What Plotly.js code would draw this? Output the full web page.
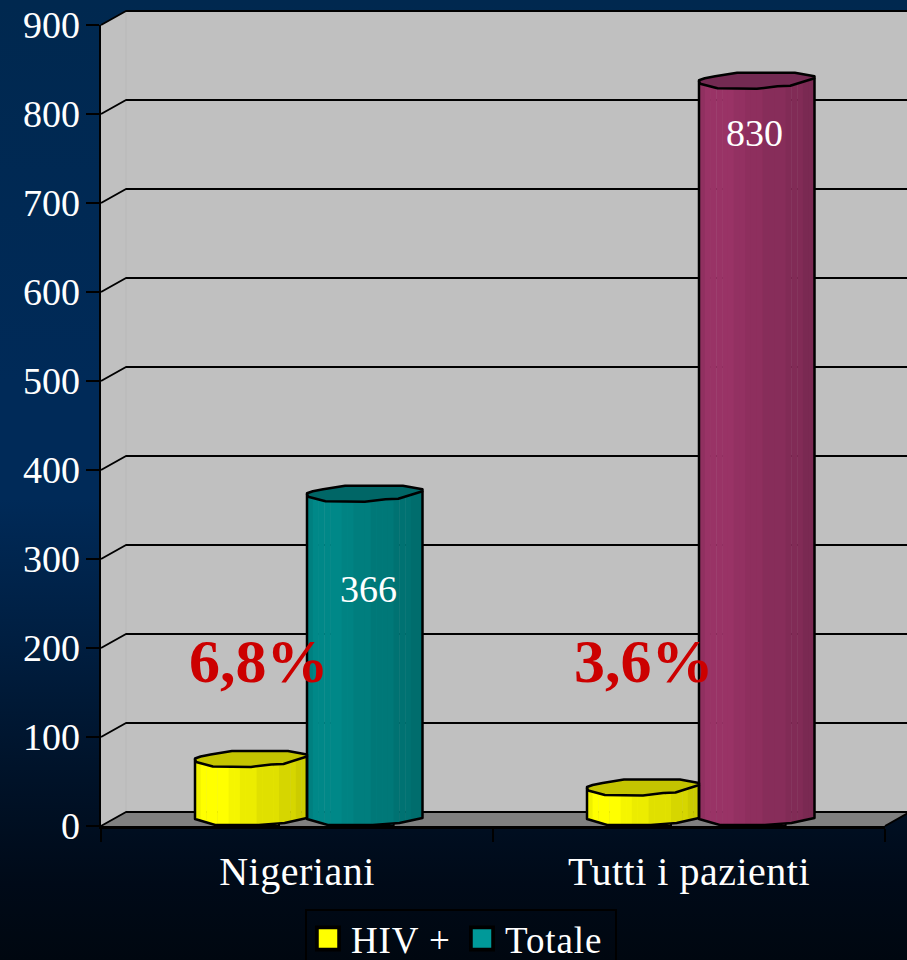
<!DOCTYPE html>
<html>
<head>
<meta charset="utf-8">
<script src="https://cdn.plot.ly/plotly-3.0.1.min.js"></script>
<style>
html,body{margin:0;padding:0;width:907px;height:960px;overflow:hidden;
background:linear-gradient(to bottom,#00284f 0%,#002a58 40%,#002a58 52%,#001f42 66%,#00132a 80%,#000a18 92%,#000710 100%);}
</style>
</head>
<body>
<div id="chart" style="width:907px;height:960px"></div>
<script>
// ---- data ----
const categories = ['Nigeriani', 'Tutti i pazienti'];
const hivValues = [68, 36];
const totalValues = [366, 830];
const percentLabels = ['6,8%', '3,6%'];
const yTicks = [0, 100, 200, 300, 400, 500, 600, 700, 800, 900];

// ---- geometry and style ----
const PLOT = {l: 101, r: 885, t: 25, b: 826};
const W = PLOT.r - PLOT.l, H = PLOT.b - PLOT.t;
const pxPerCat = W / 2, pxPerVal = H / 900;
const DX = 25 / W, DY = 14 / H;
const FONT = '"Liberation Serif", serif';

const shadeStops = [[0.07, 0.94], [0.30, 1], [0.42, 0.96], [0.56, 0.925], [0.75, 0.88], [0.90, 0.84], [1.01, 0.80]];
const bottomCurve = [[0, 7], [0.18, 1], [0.57, 1], [0.8, 3], [1, 8]];
const capLower = [[0, 6], [0.01, 3.5], [0.16, -1], [0.5, -1.5], [0.68, 1], [0.79, 1.5], [1, 9]];
const capUpper = [[1, 11], [0.83, 14.5], [0.33, 14.5], [0.14, 11], [0.05, 9], [0, 7]];
const STRIPS = 20;

const lerp = (pts, u) => {
  for (let i = 1; i < pts.length; i++) {
    if (u <= pts[i][0]) {
      const a = pts[i - 1], b = pts[i];
      return a[1] + (b[1] - a[1]) * (u - a[0]) / (b[0] - a[0]);
    }
  }
  return pts[pts.length - 1][1];
};
const shade = (rgb, f) => 'rgb(' + rgb.map(c => Math.round(c * f)).join(',') + ')';
const factor = u => shadeStops.find(s => u < s[0])[1];

const series = [
  {name: 'HIV +', values: hivValues, left: -102, width: 112,
   colors: [[255, 255, 0], [255, 255, 0]], caps: ['#c4c400', '#c4c400'], swatch: ['#ffff00', '#ffff00']},
  {name: 'Totale', values: totalValues, left: 10, width: 115.5,
   colors: [[0, 136, 136], [153, 51, 102]], caps: ['#006666', '#732a52'], swatch: ['#009999', '#993366']}
];

const traces = [], aboveShapes = [];
series.forEach(s => {
  // the series' own bar, carrying the values and the legend entry
  traces.push({
    type: 'bar', name: s.name, x: categories, y: s.values,
    width: s.width * 0.5 / pxPerCat,
    offset: (s.left + s.width * 0.25) / pxPerCat,
    marker: {color: s.swatch, line: {color: '#000', width: 2}},
    hoverinfo: 'x+y'
  });
  // shaded strips of the cylinder body
  for (let i = 0; i < STRIPS; i++) {
    const u = (i + 0.5) / STRIPS;
    const base = lerp(bottomCurve, u) / pxPerVal;
    const top = v => v + lerp(capLower, u) / pxPerVal;
    traces.push({
      type: 'bar', x: categories, showlegend: false, hoverinfo: 'skip',
      base: s.values.map(() => base),
      y: s.values.map(v => top(v) - base),
      width: (s.width / STRIPS + 0.4) / pxPerCat,
      offset: (s.left + s.width * i / STRIPS) / pxPerCat,
      marker: {color: s.colors.map(c => shade(c, factor(u))), line: {width: 0}}
    });
  }
  // cap and outline
  s.values.forEach((v, c) => {
    const X = u => c + (s.left + s.width * u) / pxPerCat;
    const Y = d => v + d / pxPerVal;
    const pts = capLower.concat(capUpper);
    aboveShapes.push({
      type: 'path', xref: 'x', yref: 'y', layer: 'above',
      path: 'M' + pts.map(p => X(p[0]) + ',' + Y(p[1])).join('L') + 'Z',
      fillcolor: s.caps[c], line: {color: '#000', width: 2.5}
    });
    const body = [[0, Y(capLower[0][1])]]
      .concat(bottomCurve.map(p => [p[0], p[1] / pxPerVal]))
      .concat([[1, Y(capLower[capLower.length - 1][1])]]);
    aboveShapes.push({
      type: 'path', xref: 'x', yref: 'y', layer: 'above',
      path: 'M' + body.map(p => X(p[0]) + ',' + p[1]).join('L'),
      line: {color: '#000', width: 2.5}
    });
  });
});

// ---- 3D box behind the bars ----
const poly = (pts, fill) => ({
  type: 'path', xref: 'paper', yref: 'paper', layer: 'below',
  path: 'M' + pts.map(p => p[0] + ',' + p[1]).join('L') + 'Z',
  fillcolor: fill, line: {width: 0}
});
const RIGHT_EDGE = 1 + DX;
const belowShapes = [
  poly([[DX, DY], [RIGHT_EDGE, DY], [RIGHT_EDGE, 1 + DY], [DX, 1 + DY]], '#c0c0c0'),
  poly([[0, 0], [DX, DY], [DX, 1 + DY], [0, 1]], '#c0c0c0'),
  poly([[0, 0], [1, 0], [RIGHT_EDGE, DY], [DX, DY]], '#808080'),
  {type: 'line', xref: 'paper', yref: 'paper', layer: 'below', x0: DX, x1: DX, y0: DY, y1: 1 + DY,
   line: {color: '#b8b8b8', width: 1}}
];
yTicks.forEach(t => {
  const y = t / 900;
  belowShapes.push({
    type: 'path', xref: 'paper', yref: 'paper', layer: 'below',
    path: 'M0,' + y + 'L' + DX + ',' + (y + DY) + 'L' + RIGHT_EDGE + ',' + (y + DY),
    line: {color: '#000', width: 2}
  });
});
belowShapes.push({type: 'line', xref: 'paper', yref: 'paper', layer: 'below', x0: 1, x1: RIGHT_EDGE, y0: 0, y1: DY,
  line: {color: '#000', width: 2}});

// ---- texts placed by hand on the picture ----
const annotations = [
  {x: (259 - PLOT.l) / W, y: (PLOT.b - 661) / H, text: percentLabels[0]},
  {x: (644 - PLOT.l) / W, y: (PLOT.b - 661) / H, text: percentLabels[1]}
].map(a => Object.assign(a, {
  xref: 'paper', yref: 'paper', showarrow: false, xanchor: 'center', yanchor: 'middle',
  font: {family: FONT, size: 62, color: '#cc0000', weight: 700}
})).concat([
  {x: (368 - PLOT.l) / W, y: (PLOT.b - 589) / H, text: String(totalValues[0])},
  {x: (754 - PLOT.l) / W, y: (PLOT.b - 133) / H, text: String(totalValues[1])}
].map(a => Object.assign(a, {
  xref: 'paper', yref: 'paper', showarrow: false, xanchor: 'center', yanchor: 'middle',
  font: {family: FONT, size: 38, color: '#ffffff'}
})));

const layout = {
  width: 907, height: 960,
  paper_bgcolor: 'rgba(0,0,0,0)', plot_bgcolor: 'rgba(0,0,0,0)',
  margin: {l: PLOT.l, r: 907 - PLOT.r, t: PLOT.t, b: 960 - PLOT.b, pad: 0, autoexpand: false},
  barmode: 'overlay',
  font: {family: FONT, color: '#fff', size: 37},
  xaxis: {
    type: 'category', range: [-0.5, 1.5], fixedrange: true,
    tickson: 'boundaries', ticks: 'outside', ticklen: 13, tickwidth: 2, tickcolor: '#000',
    showline: true, linecolor: '#000', linewidth: 2.5, showgrid: false, zeroline: false,
    ticklabelstandoff: 8, tickfont: {family: FONT, size: 40, color: '#fff'}
  },
  yaxis: {
    range: [0, 900], tickvals: yTicks, ticktext: yTicks.map(String), fixedrange: true,
    ticks: 'outside', ticklen: 13, tickwidth: 2, tickcolor: '#000',
    showline: true, linecolor: '#000', linewidth: 2.5, showgrid: false, zeroline: false,
    ticklabelstandoff: -2, tickfont: {family: FONT, size: 38, color: '#fff'}
  },
  showlegend: true,
  legend: {
    orientation: 'h', xref: 'paper', yref: 'paper', x: (305 - PLOT.l) / W, xanchor: 'left',
    y: (PLOT.b - 909) / H, yanchor: 'top',
    bgcolor: 'rgba(0,0,0,0)', bordercolor: '#000', borderwidth: 2,
    entrywidth: 105, entrywidthmode: 'pixels', itemwidth: 34,
    font: {family: FONT, size: 37, color: '#fff'}
  },
  shapes: belowShapes.concat(aboveShapes),
  annotations: annotations
};

Plotly.newPlot('chart', traces, layout, {displayModeBar: false, staticPlot: true}).then(() => {
  document.querySelectorAll('.legend .legendpoints path').forEach(p => {
    const cur = p.getAttribute('transform') || '';
    p.setAttribute('transform', cur + ' translate(-1,0) scale(1.85)');
  });
  document.querySelectorAll('.legend .traces').forEach(g => {
    g.setAttribute('transform', (g.getAttribute('transform') || '') + ' translate(0,-3)');
  });
  document.querySelectorAll('.legend text').forEach(t => { t.style.letterSpacing = '0.9px'; });
  document.querySelectorAll('.xtick text').forEach(t => { t.style.letterSpacing = '0.5px'; });
  document.querySelectorAll('.shapelayer path').forEach(p => { p.style.strokeLinejoin = 'round'; });
});
</script>
</body>
</html>
